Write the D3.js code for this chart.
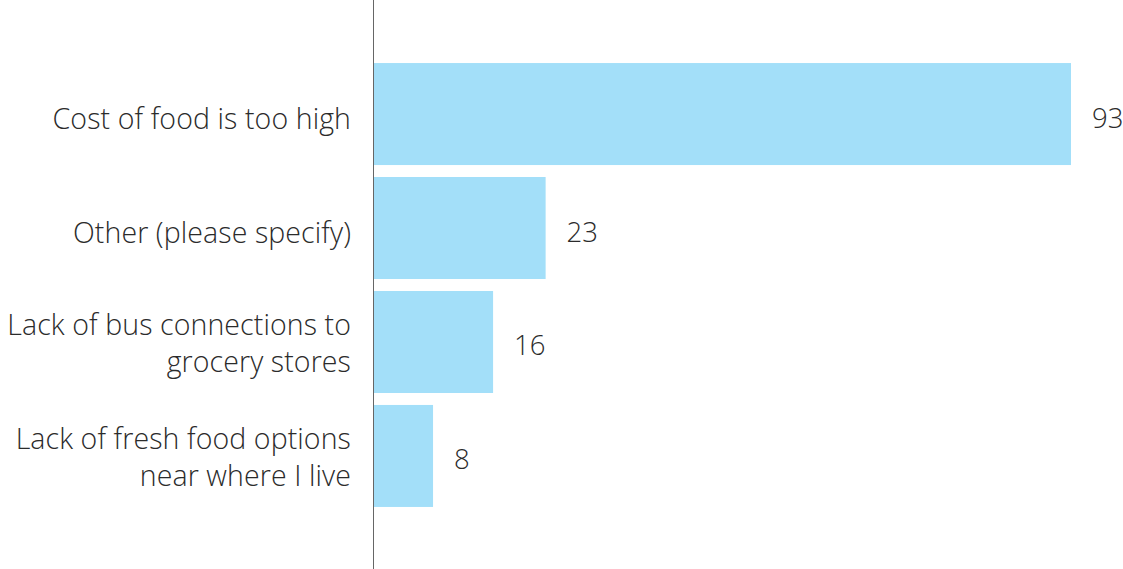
<!DOCTYPE html>
<html><head><meta charset="utf-8">
<script src="https://cdn.jsdelivr.net/npm/d3@7"></script>
<style>body{margin:0;background:#fff}svg{display:block}text{font-family:"Open Sans",Lato,sans-serif;font-weight:300;fill:#2b2b2b}</style>
</head><body><svg id="c" width="1123" height="569"></svg>
<script>
const categories = ["Cost of food is too high","Other (please specify)","Lack of bus connections to\ngrocery stores","Lack of fresh food options\nnear where I live"];
const values = [93, 23, 16, 8];

const svg = d3.select("#c");
const x0 = 373;
const x = d3.scaleLinear().domain([0, 93]).range([x0, 1071]);
const y = d3.scaleBand().domain(categories).range([57, 513]).paddingInner(0.105).paddingOuter(0.053);

svg.selectAll("rect.bar").data(values).join("rect").attr("class","bar")
  .attr("x", x(0)).attr("y", (d,i)=>y(categories[i]))
  .attr("width", d=>x(d)-x(0)).attr("height", y.bandwidth())
  .attr("fill", "#a3dff9");

svg.append("line").attr("x1", x0+0.5).attr("x2", x0+0.5).attr("y1", 0).attr("y2", 569)
  .attr("stroke", "#666").attr("stroke-width", 1);

const fs = 28.5;
categories.forEach((c,i)=>{
  const lines = c.split("\n");
  const cy = y(c) + y.bandwidth()/2;
  const lh = 37;
  const t = svg.append("text").attr("text-anchor","end").attr("font-size", fs).attr("letter-spacing", 0.1);
  lines.forEach((l,j)=>{
    t.append("tspan").attr("x", 351).attr("y", cy + (j - (lines.length-1)/2)*lh + (lines.length>1?12:15)).text(l);
  });
});

svg.selectAll("text.val").data(values).join("text").attr("class","val")
  .attr("x", d=>x(d)+21).attr("y", (d,i)=>y(categories[i]) + y.bandwidth()/2 + 13.5)
  .attr("font-size", 27.5).text(d=>d);
</script></body></html>
